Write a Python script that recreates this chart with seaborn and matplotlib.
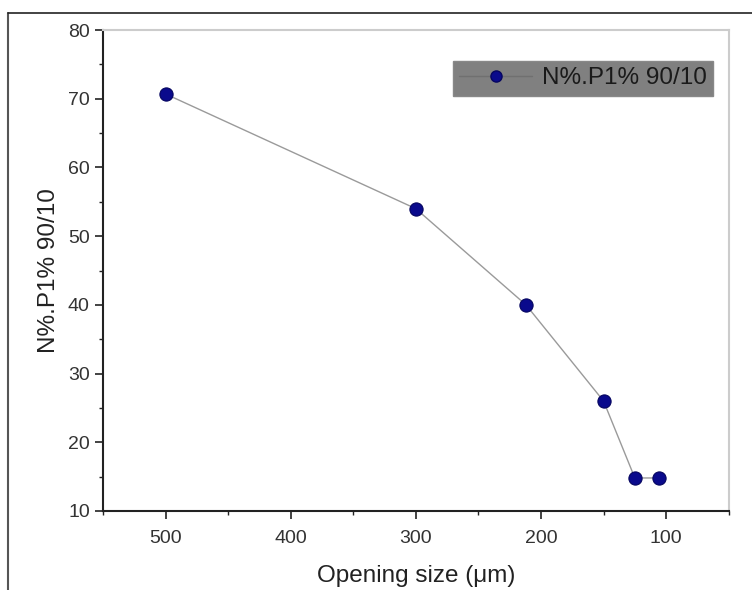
import matplotlib
matplotlib.use("Agg")
import matplotlib.pyplot as plt
from matplotlib.lines import Line2D
from matplotlib.ticker import MultipleLocator
import pandas as pd
import seaborn as sns


opening_size = [500, 300, 212, 150, 125, 106]
passing_pct = [70.7, 54.0, 40.0, 26.0, 14.8, 14.8]
series_name = "N%.P1% 90/10"
x_label = "Opening size (\u03bcm)"
y_label = "N%.P1% 90/10"


def main() -> None:
    df = pd.DataFrame({"size": opening_size, "pct": passing_pct})

    sns.set_theme(style="white")
    plt.rcParams["font.family"] = ["Liberation Sans", "DejaVu Sans"]

    fig = plt.figure(figsize=(7.52, 5.90), dpi=100)
    ax = fig.add_axes([0.137, 0.134, 0.832, 0.815])

    sns.lineplot(
        data=df,
        x="size",
        y="pct",
        ax=ax,
        color="#9a9a9a",
        linewidth=1.0,
        marker="o",
        markersize=9.5,
        markerfacecolor="#0a0a8c",
        markeredgecolor="#050560",
        markeredgewidth=0.8,
        sort=False,
    )

    ax.set_xlim(550, 50)
    ax.set_ylim(10, 80)
    ax.xaxis.set_major_locator(MultipleLocator(100))
    ax.xaxis.set_minor_locator(MultipleLocator(50))
    ax.yaxis.set_major_locator(MultipleLocator(10))
    ax.yaxis.set_minor_locator(MultipleLocator(5))

    ax.tick_params(axis="both", which="major", direction="out", length=6, width=1.2,
                   colors="#222222", labelsize=14, labelcolor="#333333",
                   bottom=True, left=True)
    ax.tick_params(axis="x", which="major", pad=8)
    ax.tick_params(axis="both", which="minor", direction="out", length=3, width=1.0,
                   colors="#222222", bottom=True, left=True)

    for side in ("left", "bottom"):
        ax.spines[side].set_color("#222222")
        ax.spines[side].set_linewidth(1.5)
    for side in ("top", "right"):
        ax.spines[side].set_color("#cccccc")
        ax.spines[side].set_linewidth(1.5)

    ax.set_xlabel(x_label, fontsize=17.5, color="#222222", labelpad=13)
    ax.set_ylabel(y_label, fontsize=17.5, color="#222222", labelpad=6)

    handle = Line2D([], [], color="#707070", linewidth=1.0, marker="o", markersize=8,
                    markerfacecolor="#0a0a8c", markeredgecolor="#050560")
    leg = ax.legend([handle], [series_name], loc="upper right",
                    bbox_to_anchor=(0.975, 0.935), fontsize=17.5, frameon=True,
                    fancybox=False, handlelength=3.0, handletextpad=0.4,
                    borderpad=0.25, borderaxespad=0)
    leg.get_frame().set_facecolor("#808080")
    leg.get_frame().set_edgecolor("#888888")
    leg.get_frame().set_alpha(1.0)
    for t in leg.get_texts():
        t.set_color("#1a1a1a")

    # outer frame lines of the original figure (left and top only)
    fig.add_artist(Line2D([8 / 752, 8 / 752], [0, 1 - 13 / 590], transform=fig.transFigure,
                          color="#555555", linewidth=1.5))
    fig.add_artist(Line2D([8 / 752, 1], [1 - 13 / 590, 1 - 13 / 590], transform=fig.transFigure,
                          color="#222222", linewidth=1.2))

    fig.savefig("out.png", dpi=100)
    plt.close(fig)


if __name__ == "__main__":
    main()
